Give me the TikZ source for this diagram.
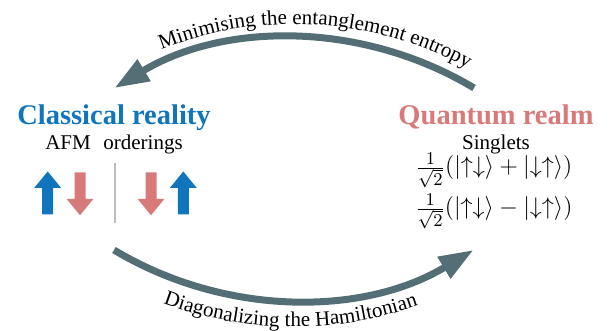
\documentclass[tikz,border=0pt]{standalone}
\usepackage{fontspec}
\setmainfont{Liberation Serif}
\usetikzlibrary{arrows.meta,decorations.text}
\definecolor{clblue}{RGB}{16,117,189}
\definecolor{qred}{RGB}{217,122,122}
\definecolor{arrgray}{RGB}{84,110,117}
\definecolor{sepgray}{RGB}{190,190,190}
\tikzset{
  titlefont/.style={font=\fontsize{14.25}{16}\selectfont\bfseries, inner sep=0pt, anchor=base},
  subfont/.style={font=\fontsize{10.5}{12}\selectfont, inner sep=0pt, anchor=base},
  mathfont/.style={font=\fontsize{12.3}{14}\selectfont, inner sep=0pt, anchor=base},
  bigarrow/.style={draw=arrgray, line width=3.5pt,
    -{Triangle[length=17.3pt,width=11.9pt]}},
  spinup/.pic={\fill (-5.5,0) -- (-5.5,26.5) -- (-13.5,26.5) -- (0,43) -- (13.5,26.5) -- (5.5,26.5) -- (5.5,0) -- cycle;},
  spindown/.pic={\fill (-5.5,0) -- (-5.5,-26.5) -- (-13.5,-26.5) -- (0,-43) -- (13.5,-26.5) -- (5.5,-26.5) -- (5.5,0) -- cycle;},
}
\begin{document}
\begin{tikzpicture}[x=0.5pt,y=0.5pt]
\useasboundingbox (0,0) rectangle (611,331);
% texts
\node[titlefont, text=clblue] (classical) at (114,206) {Classical reality};
\node[subfont] (afm) at (114,181) {AFM\hspace{0.6em}orderings};
\node[titlefont, text=qred] (quantum) at (496,206) {Quantum realm};
\node[subfont] (singlets) at (496,181) {Singlets};
\node[mathfont] (plus) at (494,157) {$\frac{1}{\sqrt{2}}(|{\uparrow\downarrow}\rangle + |{\downarrow\uparrow}\rangle)$};
\node[mathfont] (minus) at (494,116) {$\frac{1}{\sqrt{2}}(|{\uparrow\downarrow}\rangle - |{\downarrow\uparrow}\rangle)$};
% spins
\pic[fill=clblue] at (47.7,116.5) {spinup};
\pic[fill=qred] at (80,158.7) {spindown};
\draw[sepgray, line width=1.3pt] (115,168) -- (115,108);
\pic[fill=qred] at (151,158.7) {spindown};
\pic[fill=clblue] at (183.3,116.5) {spinup};
% big arrows
\coordinate (topstart) at (474,243);
\coordinate (botstart) at (114,81);
\draw[bigarrow] (topstart) arc[start angle=59, end angle=121, radius=349];
\draw[bigarrow] (botstart) arc[start angle=239, end angle=301, radius=349];
% curved labels
\path[shift={(294.3,-56.2)}, decorate, decoration={text effects along path,
  text={Minimising the entanglement entropy}, text align=center,
  text effects/.cd, text along path,
  characters={font=\fontsize{10.5}{12}\selectfont, inner sep=0pt}}]
  (120:363) arc[start angle=120, end angle=53, radius=363];
\path[shift={(293.7,380.2)}, decorate, decoration={text effects along path,
  text={Diagonalizing the Hamiltonian}, text align=center,
  text effects/.cd, text along path,
  characters={font=\fontsize{10.5}{12}\selectfont, inner sep=0pt}}]
  (240:376) arc[start angle=240, end angle=299, radius=376];
\end{tikzpicture}
\end{document}
